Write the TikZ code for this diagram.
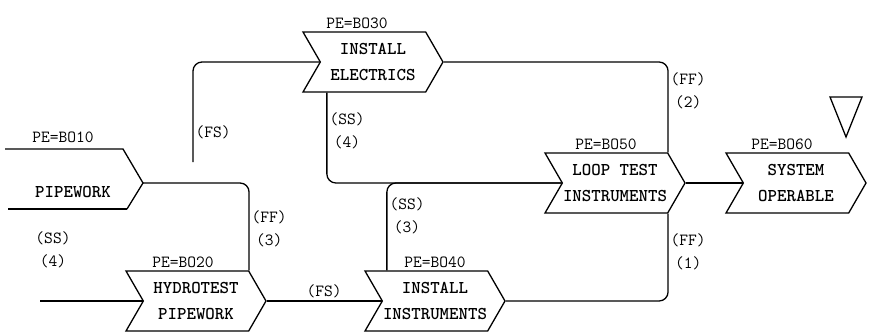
\documentclass[tikz,border=0pt]{standalone}
\usepackage{fontspec}
\usetikzlibrary{shapes.symbols}
\newcommand\actfont{\ttfamily\bfseries\fontsize{18}{26}\selectfont}
\newcommand\tagfont{\ttfamily\fontsize{17}{23}\selectfont}
\tikzset{
  act/.style = {signal, signal to=east, signal from=west,
                signal pointer angle=120, draw, line width=1.3pt,
                minimum width=140pt, minimum height=60pt, inner sep=0pt,
                align=center, font=\actfont},
  lnk/.style = {line width=1.3pt, rounded corners=9pt},
  tag/.style = {font=\tagfont, align=center, inner sep=2pt},
}

\begin{document}
\begin{tikzpicture}[x=1pt, y=-1pt]
\useasboundingbox (0,0) rectangle (869,334);

%% activities
\node[act, label={[tag, xshift=-13pt]above:PE=BO20}] (b20) at (196,301) {HYDROTEST\\PIPEWORK};
\node[act, label={[tag, xshift=-16pt]above:PE=BO30}] (b30) at (373,62)  {INSTALL\\ELECTRICS};
\node[act, label={[tag]above:PE=BO40}]               (b40) at (435,301) {INSTALL\\INSTRUMENTS};
\node[act, label={[tag, xshift=-9pt]above:PE=BO50}]  (b50) at (615,183) {LOOP TEST\\INSTRUMENTS};
\node[act, label={[tag, xshift=-14pt]above:PE=BO60}] (b60) at (796,183) {SYSTEM\\OPERABLE};

%% pipework (open on the left)
\node[font=\actfont, inner sep=0pt] (b10) at (73,192) {PIPEWORK};
\node[tag] (b10pe) at (63,137) {PE=BO10};
\coordinate (b10tip) at (143,183);
\draw[line width=1.3pt] (5,149) -- (123,149) -- (b10tip) -- (127,209);
\draw[line width=2pt] (127,209) -- (8,209);
\node[tag] (ss4) at (53,250) {(SS)\\(4)};

%% free ends
\coordinate (in20) at (40,301);
\coordinate (fs1)  at (193,162);

%% links
\draw[lnk] (in20) -- (b20.west);
\draw[lnk] (b10tip) -| node[tag, pos=0.76, right] {(FF)\\(3)} (b20.north east);
\draw[lnk] (fs1) |- node[tag, pos=0.15, right] {(FS)} (b30.west);
\draw[lnk] (b20.east) -- node[tag, above] {(FS)} (b40.west);
\draw[lnk] (b30.east) -| node[tag, pos=0.66, right] {(FF)\\(2)} (b50.north east);
\draw[lnk] ([xshift=25pt]b30.south west) |- node[tag, pos=0.21, right] {(SS)\\(4)} (b50.west);
\draw[lnk] ([xshift=23pt]b40.north west) |- node[tag, pos=0.31, right] {(SS)\\(3)} (b50.west);
\draw[lnk] (b40.east) -| node[tag, pos=0.78, right] {(FF)\\(1)} (b50.south east);
\draw[lnk] (b50.east) -- (b60.west);

%% milestone
\draw[line width=1.3pt] (830,97) -- (862,97) -- (846,137) -- cycle;

\end{tikzpicture}
\end{document}
